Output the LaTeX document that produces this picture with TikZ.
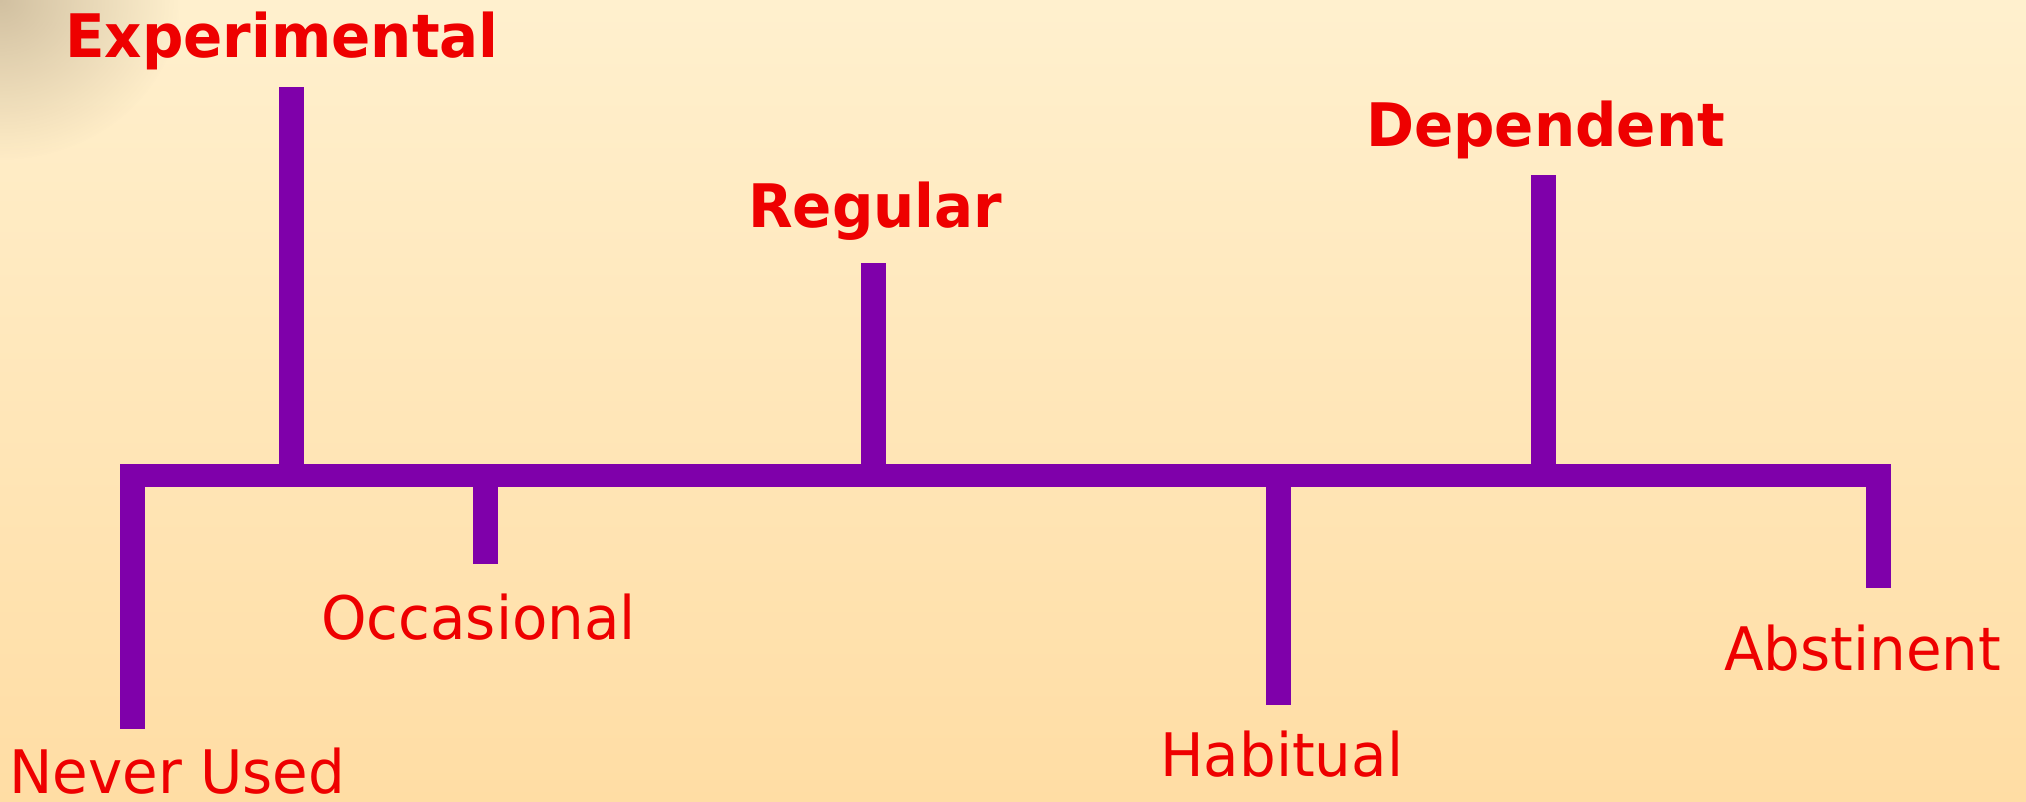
\documentclass[tikz,border=0pt]{standalone}
\usepackage{fontspec}
\setmainfont[FakeStretch=0.965]{DejaVu Sans}
\usetikzlibrary{fadings}
\tikzfading[name=cornerfade, inner color=transparent!0, outer color=transparent!100]
\definecolor{bgtop}{RGB}{255,240,206}
\definecolor{bgbot}{RGB}{255,221,164}
\definecolor{stem}{RGB}{127,0,170}
\definecolor{lbl}{RGB}{238,0,0}
\definecolor{corner}{RGB}{190,172,142}
\tikzset{
  lab/.style={anchor=base west, inner sep=0pt, text=lbl, font=\fontsize{60}{72}\selectfont},
  blab/.style={lab, font=\fontsize{60}{72}\selectfont\bfseries},
  bar/.style={fill=stem, draw=none}
}
\begin{document}
\begin{tikzpicture}[x=1pt,y=-1pt]
\useasboundingbox (0,0) rectangle (2026,801);
\shade[top color=bgtop, bottom color=bgbot] (0,0) rectangle (2026,801);
\fill[corner, path fading=cornerfade, opacity=0.7] (0,0) ellipse (180 and 160);
% main bar and end legs
\fill[bar] (120,464) rectangle (1891,487);
\fill[bar] (120,464) rectangle (145,729);
\fill[bar] (1866,464) rectangle (1891,588);
% upward stems
\fill[bar] (279,87) rectangle (304,464);
\fill[bar] (861,263) rectangle (886,464);
\fill[bar] (1531,175) rectangle (1556,464);
% downward stems
\fill[bar] (473,487) rectangle (498,564);
\fill[bar] (1266,487) rectangle (1291,705);
% labels
\node[blab] (exp) at (65,57) {Experimental};
\node[blab] (reg) at (748,227) {Regular};
\node[blab] (dep) at (1366,146) {Dependent};
\node[lab] (occ) at (321,639) {Occasional};
\node[lab] (nev) at (9,793) {Never Used};
\node[lab] (hab) at (1160,776) {Habitual};
\node[lab] (abs) at (1724,670) {Abstinent};
\end{tikzpicture}
\end{document}
